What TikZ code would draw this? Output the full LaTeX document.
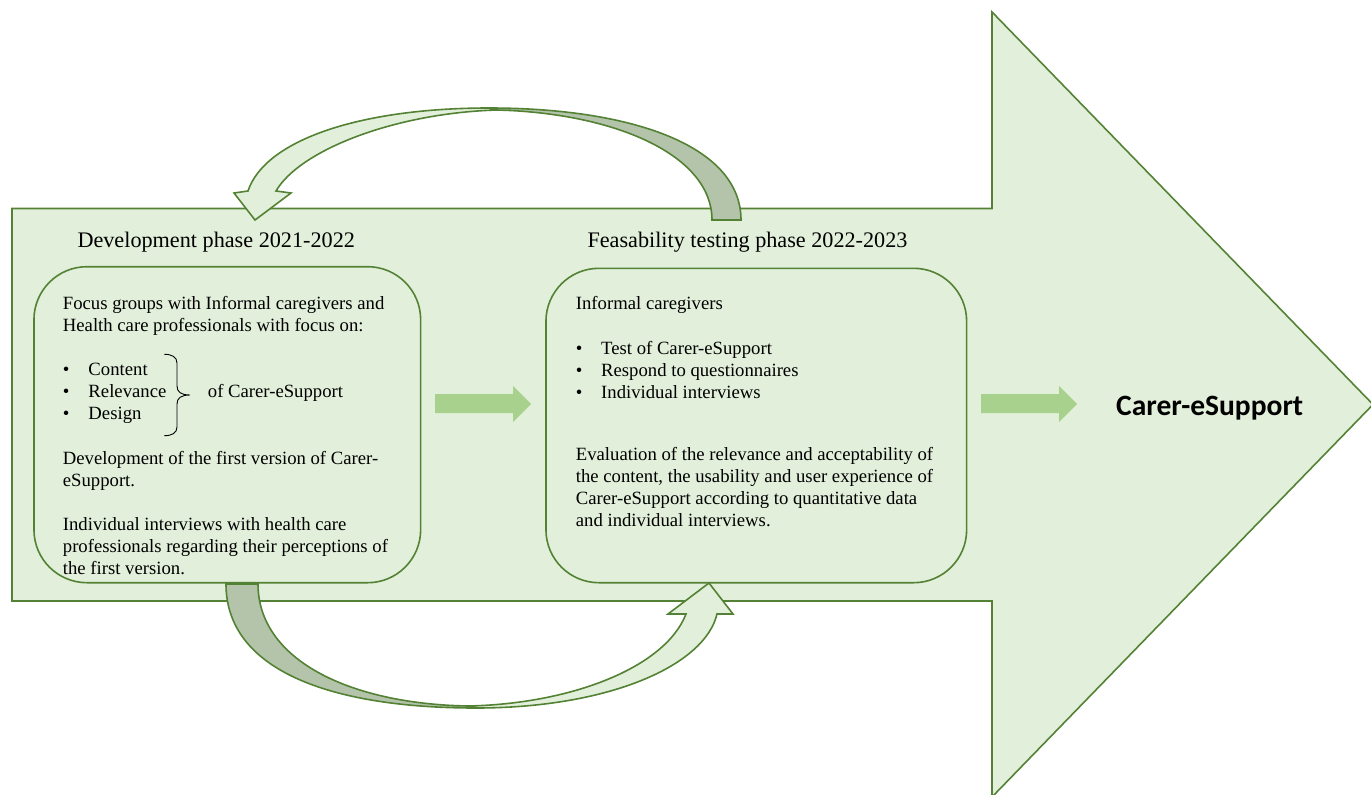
\documentclass[tikz,border=0pt]{standalone}
\usepackage{fontspec}
\setmainfont{Liberation Serif}
\newfontfamily\calibri{Carlito}
\definecolor{phasefill}{HTML}{E2EFDA}
\definecolor{phaseline}{HTML}{548235}
\definecolor{bandback}{HTML}{B4C4AA}
\definecolor{stepfill}{HTML}{A9D18E}
\begin{document}
\begin{tikzpicture}[x=1pt,y=-1pt,
  every path/.style={line join=miter},
  outline/.style={draw=phaseline,line width=1.6pt,fill=phasefill},
  backband/.style={draw=phaseline,line width=1.6pt,fill=bandback},
  phasebox/.style={outline,rounded corners=53pt,inner sep=0pt},
  txt/.style={inner sep=0pt,anchor=base west,align=left,font=\fontsize{18.7}{22.1}\selectfont},
  title/.style={inner sep=0pt,anchor=base west,font=\fontsize{22.2}{26}\selectfont},
  stepblock/.style={fill=stepfill}]
\useasboundingbox (0,0) rectangle (1371,795);
\draw[outline] (12,208.5) -- (992,208.5) -- (992,12) -- (1373,404.5) -- (992,797) -- (992,601) -- (12,601) -- cycle;
\node[phasebox,minimum width=386.7pt,minimum height=316pt]   (devbox)  at (227.3,424.7) {};
\node[phasebox,minimum width=420.7pt,minimum height=314.4pt] (testbox) at (756.3,425.5) {};
\node[title] (devtitle)  at (77.3,247.3)  {Development phase 2021-2022};
\node[title] (testtitle) at (587.3,247.3) {Feasability testing phase 2022-2023};
\node[txt] (focus)   at (62.7,331.4) {Focus groups with Informal caregivers and\\Health care professionals with focus on:};
\node[txt] (aspects) at (62.7,419.8) {\makebox[25.6pt][l]{\textbullet}Content\\\makebox[25.6pt][l]{\textbullet}Relevance\\\makebox[25.6pt][l]{\textbullet}Design};
\draw[line width=0.9pt] (164.3,354.3) .. controls (172,354.3) and (177,357) .. (177,363) -- (177,386) .. controls (177,392) and (181,395) .. (190,395) .. controls (181,395) and (177,398) .. (177,404) -- (177,427) .. controls (177,433) and (172,435.7) .. (164.3,435.7);
\node[txt] (ofcarer) at (207.7,397.7) {of Carer-eSupport};
\node[txt] (firstver) at (62.7,486.1) {Development of the first version of Carer-\\eSupport.};
\node[txt] (hcpint)  at (62.7,574.5) {Individual interviews with health care\\professionals regarding their perceptions of\\the first version.};
\node[txt] (carers)  at (575.7,309.3) {Informal caregivers};
\node[txt] (tasks)   at (575.7,398.5) {\makebox[25.3pt][l]{\textbullet}Test of Carer-eSupport\\\makebox[25.3pt][l]{\textbullet}Respond to questionnaires\\\makebox[25.3pt][l]{\textbullet}Individual interviews};
\node[txt] (evaluation) at (575.7,526.6) {Evaluation of the relevance and acceptability of\\the content, the usability and user experience of\\Carer-eSupport according to quantitative data\\and individual interviews.};
\node[inner sep=0pt,anchor=base west,font=\calibri\bfseries\fontsize{29.5}{34}\selectfont] (result) at (1116,415) {Carer-eSupport};
\fill[stepblock] (435,394) -- (513,394) -- (513,386) -- (531,404) -- (513,422) -- (513,413) -- (435,413) -- cycle;
\fill[stepblock] (981,394) -- (1059,394) -- (1059,386) -- (1077,404) -- (1059,422) -- (1059,413) -- (981,413) -- cycle;
\draw[outline] (489,108) .. controls (360,108) and (265,140) .. (248,191) -- (234,193) -- (255,220) -- (291,193) -- (276,191) .. controls (300,150) and (395,113) .. (497,110) -- cycle;
\draw[backband] (741,220) .. controls (741,145) and (630,108) .. (489,108) -- (497,110) .. controls (615,113) and (712,155) .. (712,220) -- cycle;
\draw[backband] (226,584) .. controls (226,670) and (330,708) .. (476,708) -- (468,706) .. controls (350,704) and (258,660) .. (258,584) -- cycle;
\draw[outline] (476,708) .. controls (610,708) and (705,665) .. (717,614) -- (733,614) -- (709,583) -- (668,614) -- (686,614) .. controls (665,668) and (570,704) .. (468,706) -- cycle;
\end{tikzpicture}
\end{document}
